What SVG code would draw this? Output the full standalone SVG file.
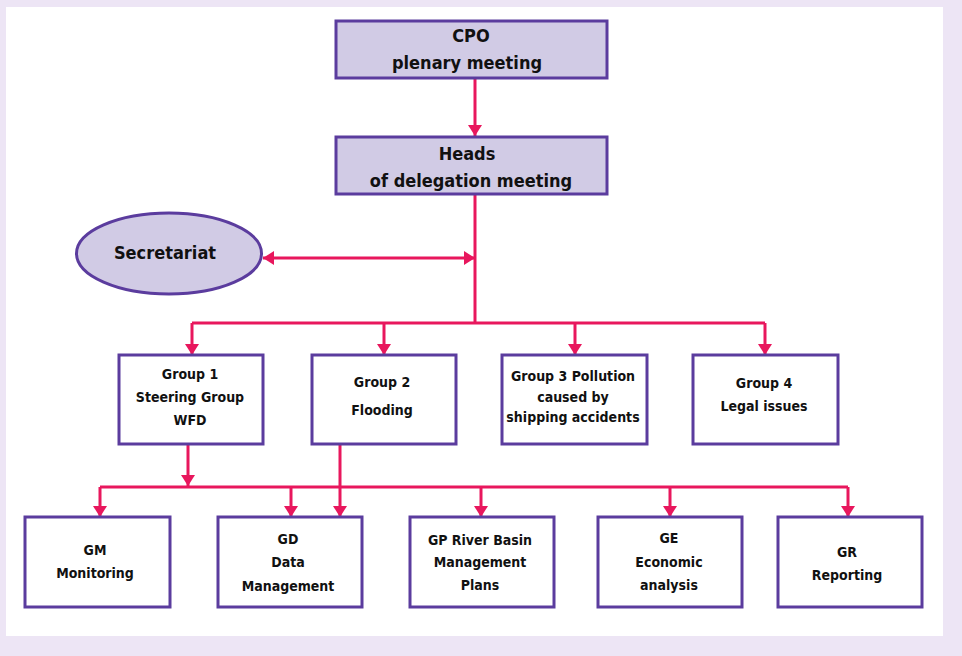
<svg xmlns="http://www.w3.org/2000/svg" width="962" height="656" viewBox="0 0 962 656">
<defs>
<style>
.box{fill:#fff;stroke:#5B3C9E;stroke-width:3}
.hl{fill:#D1CBE5;stroke:#5B3C9E;stroke-width:3}
.ln{fill:none;stroke:#E8175D;stroke-width:3}
text{font-family:"Liberation Sans Narrow","DejaVu Sans Condensed","Liberation Sans",sans-serif;font-weight:bold;fill:#111;text-anchor:middle}
.big{font-size:18px}
.sm{font-size:14px}
</style>
<marker id="ah" markerWidth="11" markerHeight="14" refX="11" refY="7" orient="auto" markerUnits="userSpaceOnUse">
<path d="M0,0 L11,7 L0,14 Z" fill="#E8175D"/>
</marker>
<marker id="ahs" markerWidth="11" markerHeight="14" refX="11" refY="7" orient="auto-start-reverse" markerUnits="userSpaceOnUse">
<path d="M0,0 L11,7 L0,14 Z" fill="#E8175D"/>
</marker>
</defs>
<rect width="962" height="656" fill="#EDE5F5"/>
<rect x="6" y="7" width="937" height="629" fill="#fff"/>

<g id="connectors">
<path class="ln" d="M475,79 V136" marker-end="url(#ah)"/>
<path class="ln" d="M475,195 V323"/>
<path class="ln" d="M263,258 H475" marker-start="url(#ahs)" marker-end="url(#ahs)"/>
<path class="ln" d="M192,323 H765"/>
<path class="ln" d="M192,323 V355" marker-end="url(#ah)"/>
<path class="ln" d="M384,323 V355" marker-end="url(#ah)"/>
<path class="ln" d="M575,323 V355" marker-end="url(#ah)"/>
<path class="ln" d="M765,323 V355" marker-end="url(#ah)"/>
<path class="ln" d="M188,445 V486" marker-end="url(#ah)"/>
<path class="ln" d="M100,487 H848"/>
<path class="ln" d="M100,487 V517" marker-end="url(#ah)"/>
<path class="ln" d="M291,487 V517" marker-end="url(#ah)"/>
<path class="ln" d="M481,487 V517" marker-end="url(#ah)"/>
<path class="ln" d="M670,487 V517" marker-end="url(#ah)"/>
<path class="ln" d="M848,487 V517" marker-end="url(#ah)"/>
<path class="ln" d="M340,445 V517" marker-end="url(#ah)"/>
</g>

<g id="cpo">
<rect class="hl" x="336" y="21" width="271" height="57"/>
<text class="big" x="471" y="42">CPO</text>
<text class="big" x="467" y="69">plenary meeting</text>
</g>
<g id="heads">
<rect class="hl" x="336" y="137" width="271" height="57"/>
<text class="big" x="467" y="160">Heads</text>
<text class="big" x="471" y="187">of delegation meeting</text>
</g>
<g id="secretariat">
<ellipse class="hl" cx="169" cy="253.5" rx="92.5" ry="40.5"/>
<text class="big" x="165" y="259">Secretariat</text>
</g>

<g id="group1">
<rect class="box" x="119" y="355" width="144" height="89"/>
<text class="sm" x="190" y="379">Group 1</text>
<text class="sm" x="190" y="402">Steering Group</text>
<text class="sm" x="190" y="425">WFD</text>
</g>
<g id="group2">
<rect class="box" x="312" y="355" width="144" height="89"/>
<text class="sm" x="382" y="387">Group 2</text>
<text class="sm" x="382" y="415">Flooding</text>
</g>
<g id="group3">
<rect class="box" x="502" y="355" width="145" height="89"/>
<text class="sm" x="573" y="381">Group 3 Pollution</text>
<text class="sm" x="573" y="402">caused by</text>
<text class="sm" x="573" y="422">shipping accidents</text>
</g>
<g id="group4">
<rect class="box" x="693" y="355" width="145" height="89"/>
<text class="sm" x="764" y="388">Group 4</text>
<text class="sm" x="764" y="411">Legal issues</text>
</g>

<g id="gm">
<rect class="box" x="25" y="517" width="145" height="90"/>
<text class="sm" x="95" y="555">GM</text>
<text class="sm" x="95" y="578">Monitoring</text>
</g>
<g id="gd">
<rect class="box" x="218" y="517" width="144" height="90"/>
<text class="sm" x="288" y="544">GD</text>
<text class="sm" x="288" y="567">Data</text>
<text class="sm" x="288" y="591">Management</text>
</g>
<g id="gp">
<rect class="box" x="410" y="517" width="144" height="90"/>
<text class="sm" x="480" y="545">GP River Basin</text>
<text class="sm" x="480" y="567">Management</text>
<text class="sm" x="480" y="590">Plans</text>
</g>
<g id="ge">
<rect class="box" x="598" y="517" width="144" height="90"/>
<text class="sm" x="669" y="543">GE</text>
<text class="sm" x="669" y="567">Economic</text>
<text class="sm" x="669" y="590">analysis</text>
</g>
<g id="gr">
<rect class="box" x="778" y="517" width="144" height="90"/>
<text class="sm" x="847" y="557">GR</text>
<text class="sm" x="847" y="580">Reporting</text>
</g>
</svg>
